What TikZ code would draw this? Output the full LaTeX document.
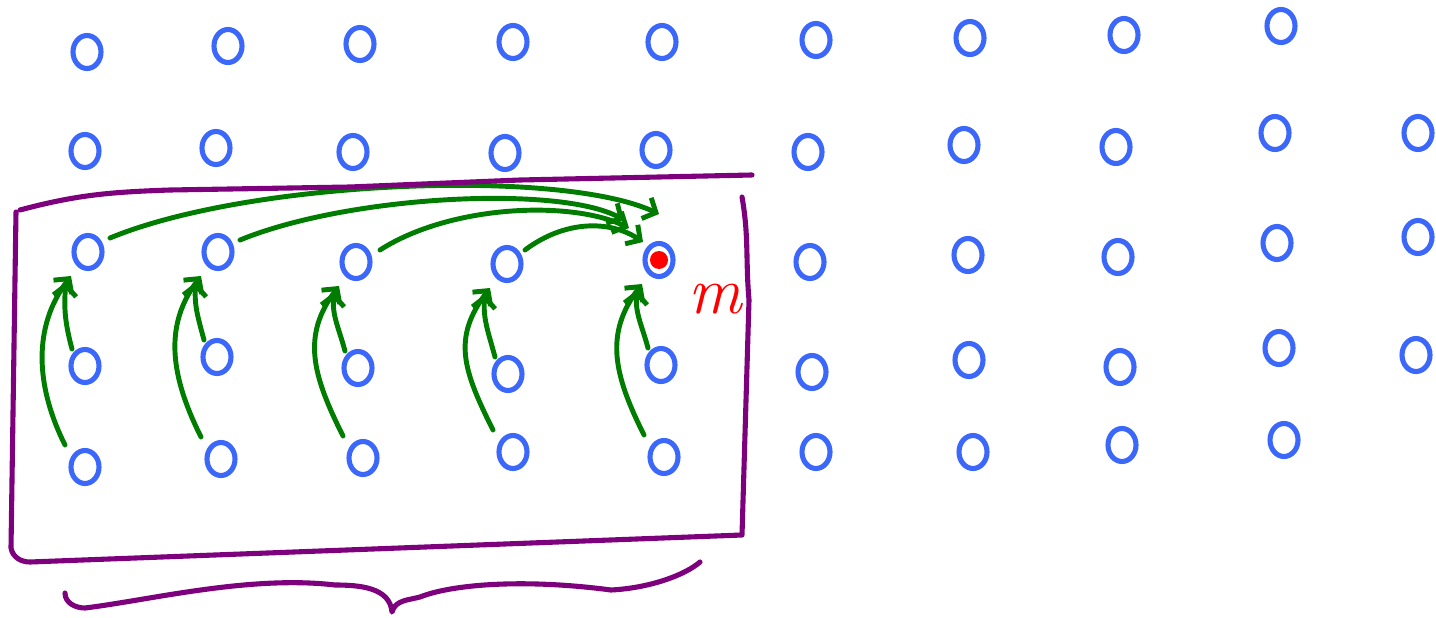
\documentclass[tikz,border=0pt]{standalone}
\usetikzlibrary{arrows.meta,shapes.geometric}
\definecolor{dotblue}{RGB}{59,104,250}
\definecolor{arrgreen}{RGB}{0,125,0}
\definecolor{framepurple}{RGB}{125,0,125}
\begin{document}
\begin{tikzpicture}[x=0.02cm, y=0.02cm,
    cell/.style={ellipse, draw=dotblue, line width=2.9pt, minimum width=0.56cm, minimum height=0.66cm, inner sep=0pt},
    flow/.style={draw=arrgreen, line width=2.8pt, line cap=round, -{Straight Barb[length=6pt,width=13pt]}},
    frame/.style={draw=framepurple, line width=2.9pt, line cap=round, line join=round}]
    \useasboundingbox (0,0) rectangle (1436,-618);

    \foreach \x/\y [count=\i] in {87/52,228/46,360/44,513/42,662/42,816/40,970/38,1124/35,1281/26}
        \node[cell] (a\i) at (\x,-\y) {};
    \foreach \x/\y [count=\i] in {85/151,216/148,353/152,505/153,656/150,808/152,964/145,1116/147,1275/133,1418/133}
        \node[cell] (b\i) at (\x,-\y) {};
    \foreach \x/\y [count=\i] in {88/252,218/252,356/262,507/264,659/260,810/262,968/255,1118/257,1277/243,1418/237}
        \node[cell] (c\i) at (\x,-\y) {};
    \foreach \x/\y [count=\i] in {85/366,217/357,358/368,508/374,661/365,812/372,969/360,1120/367,1279/348,1416/355}
        \node[cell] (d\i) at (\x,-\y) {};
    \foreach \x/\y [count=\i] in {85/467,221/459,363/458,513/452,664/457,816/452,973/452,1122/445,1284/440}
        \node[cell] (e\i) at (\x,-\y) {};

    \node[circle, fill=red, minimum size=0.36cm, inner sep=0pt] (target) at (c5) {};
    \node[text=red, font=\fontsize{38}{38}\selectfont\itshape] (mlabel) at (715,-299) {m};

    \foreach \i in {1,...,5} {
        \draw[flow] ([shift={(-13,17)}]d\i.center) to[out=105,in=-95] ([shift={(-22,-30)}]c\i.center);
        \draw[flow] ([shift={(-20,22)}]e\i.center) .. controls +(-30,60) and +(-38,-50) .. ([shift={(-17,-24)}]c\i.center);
    }

    \draw[flow] ([shift={(22,14)}]c1.center) .. controls (250,-180) and (560,-168) .. ([shift={(0,46)}]target.center);
    \draw[flow] ([shift={(22,12)}]c2.center) .. controls (350,-195) and (560,-185) .. ([shift={(-35,40)}]target.center);
    \draw[flow] ([shift={(24,12)}]c3.center) .. controls (450,-205) and (570,-200) .. ([shift={(-30,32)}]target.center);
    \draw[flow] ([shift={(18,14)}]c4.center) .. controls (565,-220) and (610,-220) .. ([shift={(-16,18)}]target.center);

    \draw[frame] (20,-210) to[out=15,in=182] (170,-190) -- (350,-187) -- (520,-180) -- (752,-175);
    \draw[frame] (16,-212) -- (11,-548) to[out=-80,in=180] (30,-562) -- (742,-535) -- (749,-300) to[out=95,in=-80] (742,-197);
    \draw[frame] (65,-593) to[out=-90,in=180] (85,-608) .. controls (150,-600) and (250,-575) .. (335,-585)
        to[out=0,in=95] (392,-612) to[out=75,in=195] (420,-597) .. controls (450,-585) and (520,-578) .. (611,-590)
        .. controls (650,-588) and (685,-575) .. (700,-562);
\end{tikzpicture}
\end{document}
